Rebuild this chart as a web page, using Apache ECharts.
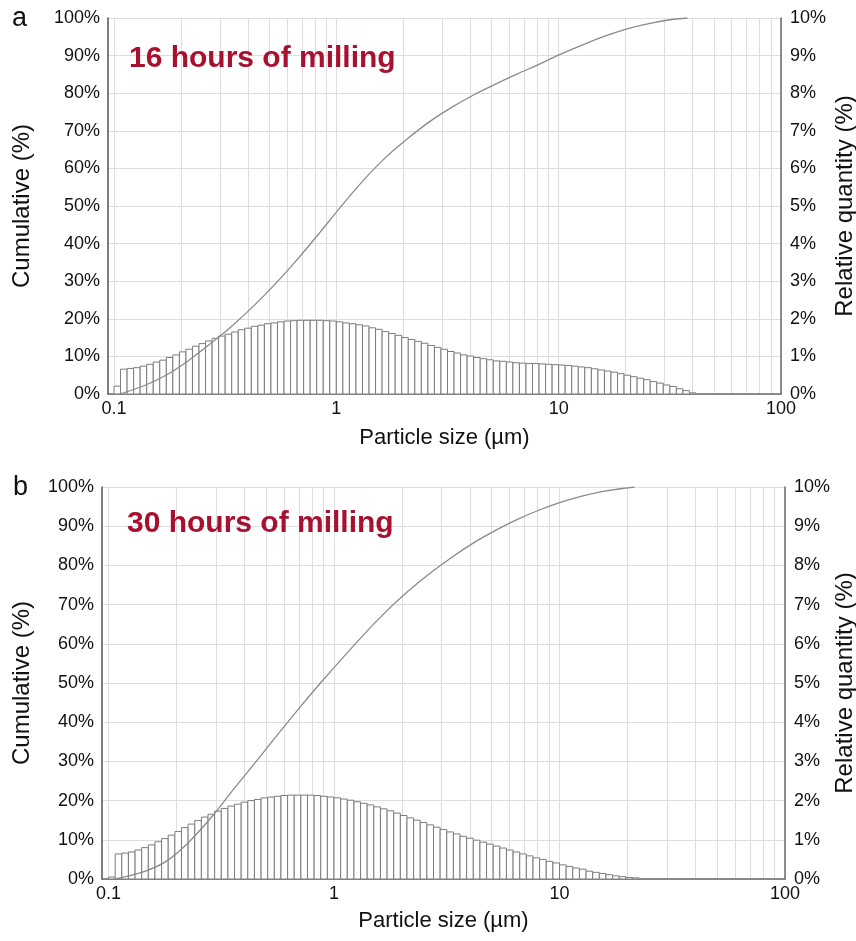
<!DOCTYPE html>
<html><head><meta charset="utf-8">
<script src="https://cdn.jsdelivr.net/npm/echarts@6/dist/echarts.min.js"></script>
<style>html,body{margin:0;padding:0;background:#fff}#c{width:856px;height:941px}</style>
</head><body><div id="c"></div>
<script>
// ---------- data ----------
const xTickLabels = [0.1, 1, 10, 100];
const gridValues = [0.1,0.2,0.3,0.4,0.5,0.6,0.7,0.8,0.9,1,2,3,4,5,6,7,8,9,10,20,30,40,50,60,70,80,90,100];
const binStart = 0.1;          // lower edge of first size channel (µm)
const binsPerDecade = 34;      // channel width (geometric)

const titleA = '16 hours of milling';
const titleB = '30 hours of milling';

// relative quantity (%) per channel
const relA = [0.21,0.66,0.68,0.70,0.74,0.79,0.85,0.90,0.97,1.04,
  1.12,1.19,1.27,1.34,1.41,1.48,1.54,1.59,1.65,1.71,
  1.75,1.80,1.83,1.87,1.89,1.92,1.94,1.95,1.96,1.96,
  1.96,1.96,1.95,1.94,1.92,1.89,1.87,1.84,1.81,1.76,
  1.72,1.66,1.61,1.56,1.50,1.45,1.40,1.35,1.29,1.24,
  1.19,1.13,1.09,1.04,1.01,0.97,0.94,0.91,0.88,0.87,
  0.85,0.83,0.82,0.81,0.81,0.80,0.79,0.78,0.77,0.76,
  0.74,0.72,0.70,0.67,0.64,0.61,0.58,0.54,0.50,0.46,
  0.42,0.38,0.33,0.29,0.24,0.20,0.14,0.09,0.03];
const relB = [0.05,0.64,0.66,0.69,0.74,0.80,0.87,0.95,1.03,1.12,
  1.21,1.31,1.40,1.49,1.58,1.65,1.73,1.80,1.86,1.91,
  1.96,2.00,2.03,2.07,2.09,2.11,2.13,2.14,2.14,2.14,
  2.14,2.13,2.11,2.09,2.07,2.04,2.01,1.97,1.93,1.89,
  1.84,1.79,1.74,1.68,1.62,1.56,1.50,1.44,1.38,1.32,
  1.26,1.20,1.15,1.09,1.04,0.99,0.94,0.89,0.84,0.79,
  0.74,0.69,0.64,0.59,0.54,0.50,0.45,0.41,0.36,0.32,
  0.28,0.25,0.20,0.17,0.14,0.11,0.08,0.06,0.04,0.03];

// cumulative curve (size µm, cumulative %)
const cumSizeA = [0.1062,0.1365,0.1713,0.2152,0.2829,0.3395,0.4262,0.5354,0.6724,0.8445,1.037,1.332,1.673,2.101,2.638,3.314,4.161,5.226,6.564,8.245,10.03,13.0,16.33,20.51,25.76,32.35,37.96];
const cumA     = [0,2.2,5.0,8.8,14.2,18.1,23.5,29.5,36,43,49.5,57,63,68,72.5,76.3,79.6,82.5,85.2,87.8,90.2,93,95.3,97.2,98.6,99.6,100];
const cumSizeB = [0.1073,0.1437,0.1799,0.2252,0.2884,0.3529,0.4418,0.5528,0.6921,0.8861,1.358,1.700,2.128,2.665,3.334,4.174,5.226,6.543,8.190,10.25,12.83,16.07,20.11,21.5];
const cumB     = [0,1.9,4.5,9.2,16.0,22.4,29.3,36.3,43.2,50.5,62.4,68.2,73.4,78.0,82.1,85.8,89.0,91.8,94.2,96.2,97.8,99.0,99.8,100];

// ---------- build ----------
const L = Math.log10;
function histData(rel) {
  return rel.map((v, i) => {
    const lo = binStart * Math.pow(10, i / binsPerDecade);
    const hi = binStart * Math.pow(10, (i + 1) / binsPerDecade);
    return [L(lo), L(hi), v];
  });
}
function curveData(s, c) { return s.map((x, i) => [L(x), c[i]]); }

function histItem(params, api) {
  const p0 = api.coord([api.value(0), 0]);
  const p1 = api.coord([api.value(1), api.value(2)]);
  return {
    type: 'rect',
    shape: { x: p0[0], y: p1[1], width: p1[0] - p0[0], height: p0[1] - p1[1] },
    style: { fill: '#ffffff', stroke: '#7c7c7c', lineWidth: 1 }
  };
}

const FONT = 'Liberation Sans';
const tickFont = { color: '#111', fontSize: 18, fontFamily: FONT };
const gridColor = '#dedede';

function xAxis(gi, min, gap) {
  return {
    gridIndex: gi, type: 'value', min: min, max: L(100),
    name: 'Particle size (µm)', nameLocation: 'middle', nameGap: gap, nameMoveOverlap: false,
    nameTextStyle: { color: '#111', fontSize: 22, fontFamily: FONT },
    axisLine: { show: true, onZero: false, lineStyle: { color: '#6a6a6a', width: 1.5 } },
    axisTick: { show: false, customValues: gridValues.map(L) },
    axisLabel: {
      customValues: xTickLabels.map(L), margin: 6, ...tickFont,
      formatter: v => String(xTickLabels.find(t => Math.abs(L(t) - v) < 1e-6))
    },
    splitLine: { show: true, lineStyle: { color: gridColor, width: 1 } }
  };
}
function yLeft(gi, gap) {
  return {
    gridIndex: gi, type: 'value', min: 0, max: 100, interval: 10, position: 'left',
    name: 'Cumulative (%)', nameLocation: 'middle', nameGap: gap, nameRotate: 90, nameMoveOverlap: false,
    nameTextStyle: { color: '#111', fontSize: 24, fontFamily: FONT },
    axisLine: { show: true, onZero: false, lineStyle: { color: '#555', width: 1.5 } },
    axisTick: { show: false },
    axisLabel: { formatter: '{value}%', margin: 8, ...tickFont },
    splitLine: { show: true, lineStyle: { color: gridColor, width: 1 } }
  };
}
function yRight(gi, gap) {
  return {
    gridIndex: gi, type: 'value', min: 0, max: 10, interval: 1, position: 'right',
    name: 'Relative quantity (%)', nameLocation: 'middle', nameGap: gap, nameRotate: 90, nameMoveOverlap: false,
    nameTextStyle: { color: '#111', fontSize: 24, fontFamily: FONT },
    axisLine: { show: true, onZero: false, lineStyle: { color: '#6a6a6a', width: 1.5 } },
    axisTick: { show: false },
    axisLabel: { formatter: '{value}%', margin: 9, ...tickFont },
    splitLine: { show: false }
  };
}

const chart = echarts.init(document.getElementById('c'), null, { renderer: 'canvas' });
chart.setOption({
  backgroundColor: '#fff',
  animation: false,
  grid: [
    { left: 108, right: 75, top: 18, height: 376, outerBoundsMode: 'none', containLabel: false },
    { left: 102, right: 71, top: 487, height: 392, outerBoundsMode: 'none', containLabel: false }
  ],
  xAxis: [xAxis(0, -1.027, 33), xAxis(1, -1.029, 31)],
  yAxis: [yLeft(0, 74), yRight(0, 52), yLeft(1, 68), yRight(1, 48)],
  series: [
    { type: 'custom', xAxisIndex: 0, yAxisIndex: 1, renderItem: histItem,
      encode: { x: [0, 1], y: 2 }, data: histData(relA), z: 2, silent: true },
    { type: 'line', xAxisIndex: 0, yAxisIndex: 0, data: curveData(cumSizeA, cumA),
      smooth: 0.3, showSymbol: false, z: 3,
      lineStyle: { color: '#8a8a8a', width: 1.3 } },
    { type: 'custom', xAxisIndex: 1, yAxisIndex: 3, renderItem: histItem,
      encode: { x: [0, 1], y: 2 }, data: histData(relB), z: 2, silent: true },
    { type: 'line', xAxisIndex: 1, yAxisIndex: 2, data: curveData(cumSizeB, cumB),
      smooth: 0.3, showSymbol: false, z: 3,
      lineStyle: { color: '#8a8a8a', width: 1.3 } }
  ],
  graphic: [
    { type: 'text', z: 100, left: 12, top: 5, style: { text: 'a', font: '27px "Liberation Sans"', fill: '#111' } },
    { type: 'text', z: 100, left: 13, top: 474, style: { text: 'b', font: '27px "Liberation Sans"', fill: '#111' } },
    { type: 'text', z: 100, left: 129, top: 44, style: { text: titleA, font: 'bold 30px "Liberation Sans"', fill: '#a8102f' } },
    { type: 'text', z: 100, left: 127, top: 509, style: { text: titleB, font: 'bold 30px "Liberation Sans"', fill: '#a8102f' } }
  ]
});
</script></body></html>
